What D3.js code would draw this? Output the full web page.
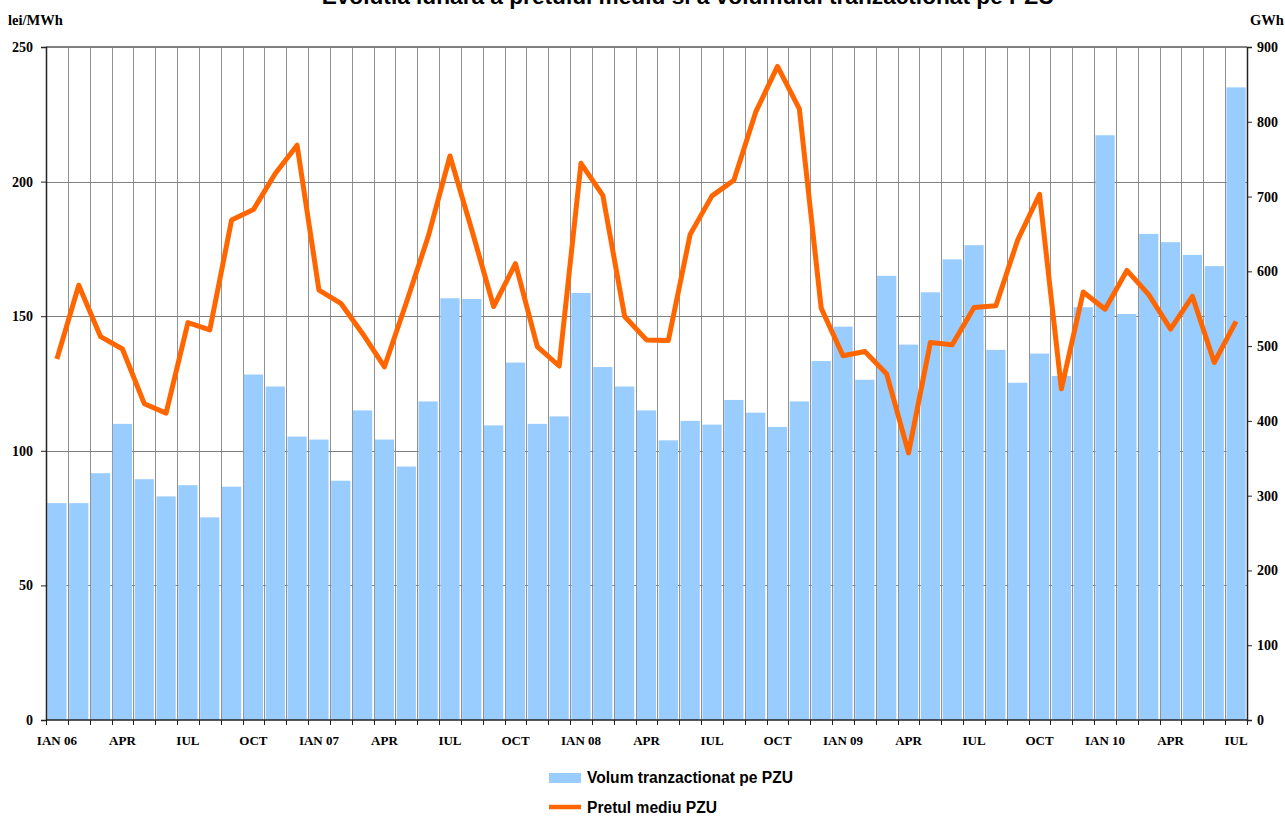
<!DOCTYPE html>
<html>
<head>
<meta charset="utf-8">
<script src="https://cdn.jsdelivr.net/npm/d3@7"></script>
<style>
  html, body { margin: 0; padding: 0; background: #fff; }
  svg { display: block; }
</style>
</head>
<body>
<svg id="chart" width="1285" height="816"></svg>
<script>
// ---- DATA ----
const categories = [
  "IAN 06","FEB 06","MAR 06","APR 06","MAI 06","IUN 06","IUL 06","AUG 06","SEP 06","OCT 06","NOI 06","DEC 06",
  "IAN 07","FEB 07","MAR 07","APR 07","MAI 07","IUN 07","IUL 07","AUG 07","SEP 07","OCT 07","NOI 07","DEC 07",
  "IAN 08","FEB 08","MAR 08","APR 08","MAI 08","IUN 08","IUL 08","AUG 08","SEP 08","OCT 08","NOI 08","DEC 08",
  "IAN 09","FEB 09","MAR 09","APR 09","MAI 09","IUN 09","IUL 09","AUG 09","SEP 09","OCT 09","NOI 09","DEC 09",
  "IAN 10","FEB 10","MAR 10","APR 10","MAI 10","IUN 10","IUL 10"
];
const tickLabels = [
  "IAN 06","","","APR","","","IUL","","","OCT","","",
  "IAN 07","","","APR","","","IUL","","","OCT","","",
  "IAN 08","","","APR","","","IUL","","","OCT","","",
  "IAN 09","","","APR","","","IUL","","","OCT","","",
  "IAN 10","","","APR","","","IUL"
];
// Volum tranzactionat pe PZU (GWh) - right axis
const volume = [
  290, 290, 330, 396, 322, 299, 314, 271, 312, 462, 446, 379,
  375, 320, 414, 375, 339, 426, 564, 563, 394, 478, 396, 406,
  571, 472, 446, 414, 374, 400, 395, 428, 411, 392, 426, 480,
  526, 455, 594, 502, 572, 616, 635, 495, 451, 490, 460, 552,
  782, 543, 650, 639, 622, 607, 846
];
// Pretul mediu PZU (lei/MWh) - left axis
const price = [
  134.1, 161.5, 142.4, 137.8, 117.5, 114.0, 147.6, 144.9, 185.7, 189.6, 203.0, 213.5,
  159.7, 154.8, 143.5, 131.2, 155.0, 179.5, 209.5, 182.0, 153.6, 169.5, 138.7, 131.5,
  206.8, 194.9, 149.9, 141.2, 141.0, 180.4, 194.7, 200.5, 225.8, 242.8, 227.0, 153.0,
  135.3, 136.9, 128.5, 99.2, 140.2, 139.4, 153.2, 153.9, 178.3, 195.3, 123.0, 159.0,
  152.6, 167.0, 158.0, 145.2, 157.4, 132.8, 148.1
];
const leftTicks = [0, 50, 100, 150, 200, 250];
const rightTicks = [0, 100, 200, 300, 400, 500, 600, 700, 800, 900];
const titleText = "Evolutia lunara a pretului mediu si a volumului tranzactionat pe PZU";
const seriesNames = ["Volum tranzactionat pe PZU", "Pretul mediu PZU"];

// ---- LAYOUT ----
const L = 46, R = 1247, T = 47, B = 720;
const serif = "'Liberation Serif', 'Times New Roman', serif";
const sans = "'Liberation Sans', Arial, sans-serif";
const barColor = "#99CCFF", lineColor = "#FF6600", gridColor = "#808080";

const svg = d3.select("#chart");

const x = d3.scaleBand().domain(categories).range([L, R]).paddingInner(0.12).paddingOuter(0.06);
const step = x.step();
const yL = d3.scaleLinear().domain([0, 250]).range([B, T]);
const yR = d3.scaleLinear().domain([0, 900]).range([B, T]);
const crisp = v => Math.round(v) + 0.5;

// vertical grid lines (category boundaries)
const g = svg.append("g");
const boundaries = d3.range(1, categories.length).map(i => x(categories[i]) - step * x.paddingInner() / 2);
g.selectAll("line.vg").data(boundaries).join("line")
  .attr("x1", d => crisp(d)).attr("x2", d => crisp(d))
  .attr("y1", T).attr("y2", B)
  .attr("stroke", gridColor).attr("stroke-width", 1).attr("opacity", 0.85);

// horizontal grid lines
g.selectAll("line.hg").data(leftTicks.filter(v => v > 0 && v < 250)).join("line")
  .attr("x1", L).attr("x2", R)
  .attr("y1", d => crisp(yL(d))).attr("y2", d => crisp(yL(d)))
  .attr("stroke", gridColor).attr("stroke-width", 1);

// top border
svg.append("line").attr("x1", L).attr("x2", R).attr("y1", T).attr("y2", T)
  .attr("stroke", gridColor).attr("stroke-width", 2);

// bars
svg.append("g").selectAll("rect").data(volume).join("rect")
  .attr("x", (d, i) => x(categories[i]))
  .attr("width", x.bandwidth())
  .attr("y", d => yR(d))
  .attr("height", d => B - yR(d))
  .attr("fill", barColor);

// price line
const line = d3.line()
  .x((d, i) => x(categories[i]) + x.bandwidth() / 2)
  .y(d => yL(d));
svg.append("path").datum(price)
  .attr("d", line)
  .attr("fill", "none")
  .attr("stroke", lineColor)
  .attr("stroke-width", 5)
  .attr("stroke-linejoin", "round");

// left axis
const axL = svg.append("g").attr("transform", `translate(${L},0)`)
  .call(d3.axisLeft(yL).tickValues(leftTicks).tickSize(5).tickPadding(8).tickFormat(d3.format("d")));
axL.select(".domain").attr("stroke", "#222").attr("stroke-width", 1.5);
axL.selectAll(".tick line").attr("stroke", "#222");
axL.selectAll("text").attr("font-family", serif).attr("font-weight", "bold").attr("font-size", "14px").attr("fill", "#000");

// right axis
const axR = svg.append("g").attr("transform", `translate(${R},0)`)
  .call(d3.axisRight(yR).tickValues(rightTicks).tickSize(5).tickPadding(5).tickFormat(d3.format("d")));
axR.select(".domain").attr("stroke", "#222").attr("stroke-width", 1.5);
axR.selectAll(".tick line").attr("stroke", "#222");
axR.selectAll("text").attr("font-family", serif).attr("font-weight", "bold").attr("font-size", "14px").attr("fill", "#000");

// bottom axis
const axB = svg.append("g");
axB.append("line").attr("x1", L).attr("x2", R).attr("y1", B).attr("y2", B)
  .attr("stroke", "#222").attr("stroke-width", 1.5);
const allBounds = [L].concat(boundaries).concat([R]);
axB.selectAll("line.bt").data(allBounds).join("line")
  .attr("x1", d => crisp(d)).attr("x2", d => crisp(d))
  .attr("y1", B).attr("y2", B + 5)
  .attr("stroke", "#222").attr("stroke-width", 1);
axB.selectAll("text").data(tickLabels).join("text")
  .attr("x", (d, i) => x(categories[i]) + x.bandwidth() / 2)
  .attr("y", 745)
  .attr("text-anchor", "middle")
  .attr("font-family", serif).attr("font-weight", "bold").attr("font-size", "13px")
  .text(d => d);

// axis unit labels
svg.append("text").attr("x", 8).attr("y", 25)
  .attr("font-family", serif).attr("font-weight", "bold").attr("font-size", "14.5px")
  .text("lei/MWh");
svg.append("text").attr("x", 1250).attr("y", 25)
  .attr("font-family", serif).attr("font-weight", "bold").attr("font-size", "14.5px")
  .text("GWh");

// title (cut at top)
const title = svg.append("text").attr("x", 688).attr("y", 4)
  .attr("text-anchor", "middle")
  .attr("font-family", sans).attr("font-weight", "bold").attr("font-size", "18px")
  .text(titleText);
const tl = title.node().getComputedTextLength();
if (tl > 0) title.attr("font-size", (18 * 733 / tl).toFixed(2) + "px");

// legend
const lg = svg.append("g");
lg.append("rect").attr("x", 549).attr("y", 773).attr("width", 32).attr("height", 10).attr("fill", barColor);
const t1 = lg.append("text").attr("x", 587).attr("y", 783)
  .attr("font-family", sans).attr("font-weight", "bold").attr("font-size", "15px")
  .text(seriesNames[0]);
const l1 = t1.node().getComputedTextLength();
const fs = l1 > 0 ? Math.min(16, 15 * 206 / l1) : 15;
t1.attr("font-size", fs.toFixed(2) + "px");
lg.append("line").attr("x1", 549).attr("x2", 581).attr("y1", 807).attr("y2", 807)
  .attr("stroke", lineColor).attr("stroke-width", 4.5);
lg.append("text").attr("x", 587).attr("y", 813)
  .attr("font-family", sans).attr("font-weight", "bold").attr("font-size", fs.toFixed(2) + "px")
  .text(seriesNames[1]);
</script>
</body>
</html>
